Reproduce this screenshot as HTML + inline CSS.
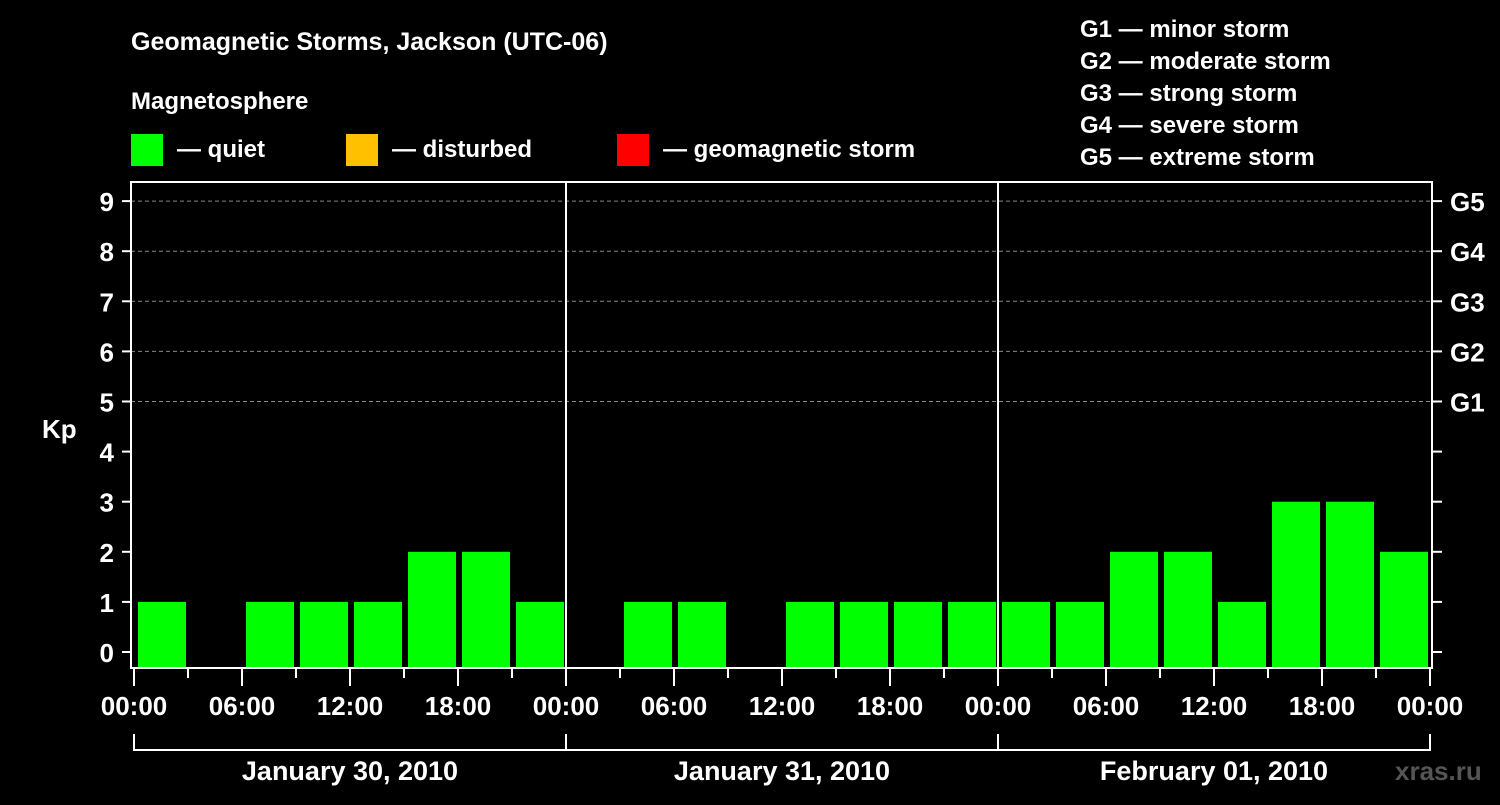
<!DOCTYPE html>
<html><head><meta charset="utf-8"><style>
html,body{margin:0;padding:0;background:#000;}
svg text{font-family:"Liberation Sans",Arial,sans-serif;font-weight:bold;fill:#fff;}
</style></head><body>
<svg id="chart" width="1500" height="800" xmlns="http://www.w3.org/2000/svg">
<rect width="1500" height="800" fill="#000"/>
<text x="131" y="50" font-size="25">Geomagnetic Storms, Jackson (UTC-06)</text>
<text x="131" y="109" font-size="24">Magnetosphere</text>
<g>
<rect x="131" y="134" width="32" height="32" fill="#00ff00"/>
<text x="177" y="157" font-size="24">— quiet</text>
<rect x="346" y="134" width="32" height="32" fill="#ffc000"/>
<text x="392" y="157" font-size="24">— disturbed</text>
<rect x="617" y="134" width="32" height="32" fill="#ff0000"/>
<text x="663" y="157" font-size="24">— geomagnetic storm</text>
</g>
<g font-size="24">
<text x="1080" y="37">G1 — minor storm</text>
<text x="1080" y="69">G2 — moderate storm</text>
<text x="1080" y="101">G3 — strong storm</text>
<text x="1080" y="133">G4 — severe storm</text>
<text x="1080" y="165">G5 — extreme storm</text>
</g>
<text x="42" y="438" font-size="26">Kp</text>
<text x="1395" y="780" font-size="26" fill="#555" style="fill:#555">xras.ru</text>
<g id="grid"></g><g id="bars"></g><g id="axes"></g>
</svg>
<script>
const days = ["January 30, 2010","January 31, 2010","February 01, 2010"];
const kpValues = [1,0,1,1,1,2,2,1, 0,1,1,0,1,1,1,1, 1,1,2,2,1,3,3,2];
const yTicks = [0,1,2,3,4,5,6,7,8,9];
const gLabels = ["G1","G2","G3","G4","G5"];
const gLevels = [5,6,7,8,9];
const hourLabels = ["00:00","06:00","12:00","18:00"];
const NS="http://www.w3.org/2000/svg";
const X0=134, PXH=18, Y0=652, PXU=50.1, LEFT=131, RIGHT=1432, TOP=182, BOTTOM=668;
const xs = h => X0 + h*PXH;
const ys = v => Y0 - v*PXU;
function mk(tag, attrs, parent, txt){const e=document.createElementNS(NS,tag);for(const k in attrs)e.setAttribute(k,attrs[k]);if(txt!==undefined)e.textContent=txt;parent.appendChild(e);return e;}
const grid=document.getElementById('grid'), bars=document.getElementById('bars'), axes=document.getElementById('axes');
gLevels.forEach((lv,i)=>{
  const l=mk('line',{x1:LEFT,x2:RIGHT,y1:ys(lv),y2:ys(lv),stroke:'#888','stroke-width':1,'stroke-dasharray':'4,3'},grid);
  
  
  const t=mk('text',{x:1450,y:ys(lv)+10,'font-size':26},axes,gLabels[i]);
  
  
});
kpValues.forEach((v,i)=>{
  if(v<=0) return;
  const col = v>=5?'#ff0000':(v>=4?'#ffc000':'#00ff00');
  const r=mk('rect',{x:xs(i*3)+4,y:ys(v),width:3*PXH-6,height:BOTTOM-ys(v),fill:col},bars);
  
  
});
const frame=mk('rect',{x:LEFT,y:TOP,width:RIGHT-LEFT,height:BOTTOM-TOP,fill:'none',stroke:'#fff','stroke-width':2},axes);


[1,2].forEach(d=>{
  const l=mk('line',{x1:xs(d*24),x2:xs(d*24),y1:TOP,y2:BOTTOM,stroke:'#fff','stroke-width':2},axes);
  
  
});
yTicks.forEach(v=>{
  mk('line',{x1:122,x2:LEFT,y1:ys(v),y2:ys(v),stroke:'#fff','stroke-width':2},axes);
  mk('line',{x1:RIGHT,x2:1442,y1:ys(v),y2:ys(v),stroke:'#fff','stroke-width':2},axes);
  const t=mk('text',{x:114,y:ys(v)+10,'font-size':26,'text-anchor':'end'},axes,String(v));
  
  
});
for(let h=0;h<=72;h+=3){
  const major=h%6===0;
  mk('line',{x1:xs(h),x2:xs(h),y1:BOTTOM,y2:major?686:678,stroke:'#fff','stroke-width':2},axes);
  if(major){
    const t=mk('text',{x:xs(h),y:715,'font-size':26,'text-anchor':'middle'},axes,h===72?"00:00":hourLabels[(h%24)/6]);
    
    
  }
}
days.forEach((d,i)=>{
  const a=xs(i*24), b=xs(i*24+24);
  mk('path',{d:`M${a},734 V750 H${b} V734`,stroke:'#fff','stroke-width':2,fill:'none'},axes);
  const t=mk('text',{x:(a+b)/2,y:780,'font-size':27,'text-anchor':'middle'},axes,d);
  
  
});
</script>
</body></html>
